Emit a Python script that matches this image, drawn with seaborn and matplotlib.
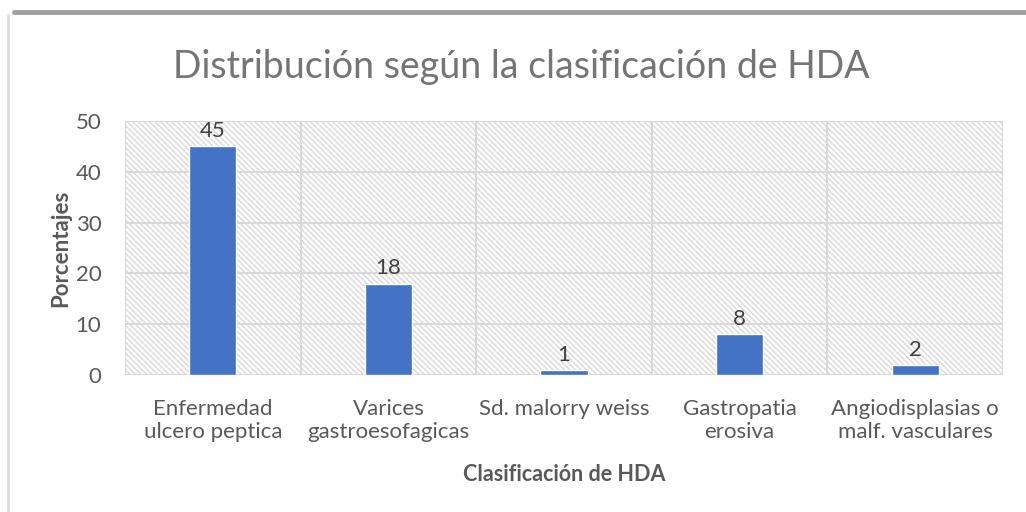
import matplotlib
matplotlib.use("Agg")
import matplotlib.pyplot as plt
import seaborn as sns
import pandas as pd
from matplotlib.lines import Line2D
from matplotlib.patches import Rectangle

# data
categorias = ["Enfermedad\nulcero peptica", "Varices\ngastroesofagicas",
              "Sd. malorry weiss", "Gastropatia\nerosiva",
              "Angiodisplasias o\nmalf. vasculares"]
porcentajes = [45, 18, 1, 8, 2]
yticks = [0, 10, 20, 30, 40, 50]

df = pd.DataFrame({"cat": categorias, "val": porcentajes})

sns.set_theme(style="white")
plt.rcParams["font.family"] = ["Lato", "DejaVu Sans"]
plt.rcParams["hatch.color"] = "#d9d9d9"
plt.rcParams["hatch.linewidth"] = 1.0

fig = plt.figure(figsize=(10.26, 5.12), dpi=100)
ax = fig.add_axes([0.1218, 0.2676, 0.8558, 0.4961])

# hatched plot area background
ax.add_patch(Rectangle((0, 0), 1, 1, transform=ax.transAxes, facecolor="white",
                       edgecolor="#d9d9d9", hatch="\\\\\\\\\\\\", linewidth=0, zorder=0))

sns.barplot(data=df, x="cat", y="val", color="#4472C4", width=0.27,
            saturation=1, ax=ax, zorder=3)

ax.set_ylim(0, 50)
ax.set_xlim(-0.5, len(categorias) - 0.5)
ax.set_yticks(yticks)

# gridlines
for y in yticks:
    ax.axhline(y, color="#d9d9d9", linewidth=1.5, zorder=1)
for i in range(len(categorias) + 1):
    ax.axvline(i - 0.5, color="#d9d9d9", linewidth=1.5, zorder=1)

for s in ax.spines.values():
    s.set_visible(False)

ax.tick_params(axis="both", length=0, labelsize=16, colors="#595959")
ax.tick_params(axis="x", pad=17)
ax.tick_params(axis="y", pad=17)

# data labels
for i, v in enumerate(porcentajes):
    ax.text(i, v + 1.0, str(v), ha="center", va="bottom", fontsize=16, color="#404040")

ax.set_xlabel("Clasificación de HDA", fontsize=15.5, fontweight="bold", color="#595959", labelpad=16)
ax.set_ylabel("Porcentajes", fontsize=16, fontweight="bold", color="#595959", labelpad=3)

fig.text(0.508, 0.870, "Distribución según la clasificación de HDA", ha="center", va="center",
         fontsize=27, color="#757575")

# chart frame
fig.add_artist(Line2D([14 / 1026, 1], [1 - 12 / 512, 1 - 12 / 512], color="#a0a0a0", linewidth=3.5))
fig.add_artist(Line2D([8 / 1026, 8 / 1026], [0, 1 - 15 / 512], color="#d9d9d9", linewidth=1.8))

plt.savefig("out.png", dpi=100)
plt.close()
